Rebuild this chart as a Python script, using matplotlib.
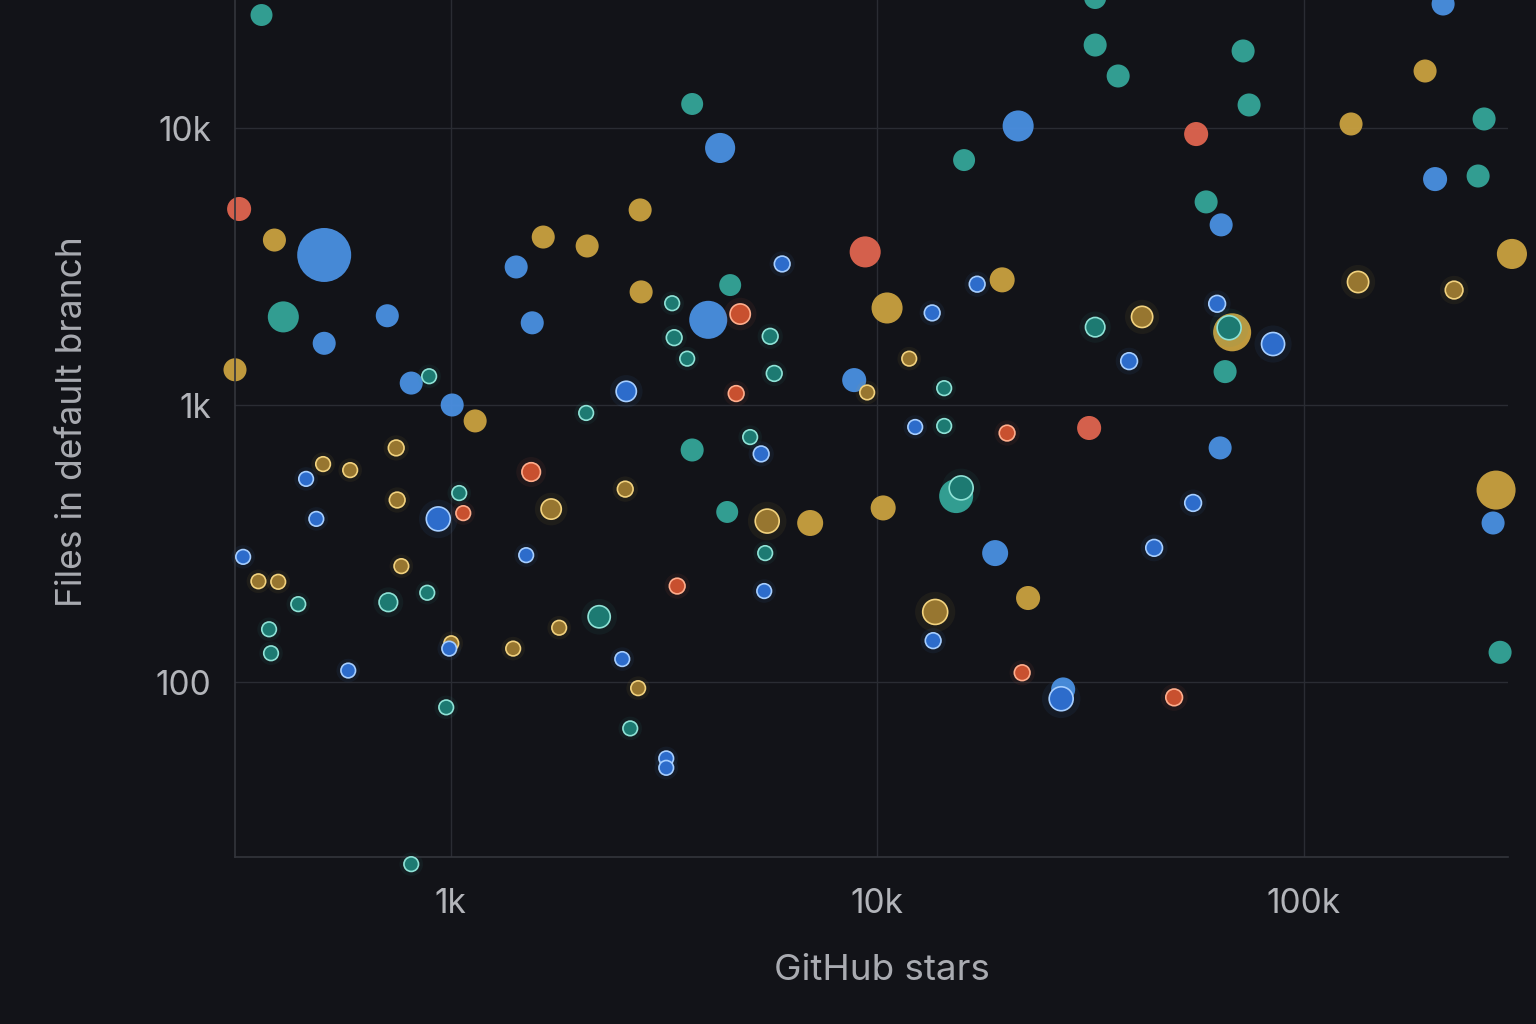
import numpy as np
import matplotlib
matplotlib.use('Agg')
import matplotlib.pyplot as plt
from matplotlib.ticker import FixedLocator, FixedFormatter, NullLocator

plt.rcParams['font.family'] = ['Inter', 'DejaVu Sans']

# ---- values (stars, files, contributors, recently active) ----
blue_stars = [505, 710, 505, 808, 1008, 2580, 1424, 1553, 458, 484, 935, 1503, 326, 575,
              992, 2525, 4283, 5988, 4017, 13460, 17160, 21410, 8834, 12280, 5346, 5434,
              3202, 3202, 18910, 13530, 27010, 27300, 212400, 203400, 64070, 62700, 84800,
              38980, 63720, 55070, 44620, 278200]
blue_files = [3480, 2100, 1670, 1200, 1000, 1120, 3150, 1980, 541, 388, 388, 287, 283, 110,
              132, 121, 8470, 3230, 2030, 2150, 2730, 10170, 1230, 833, 666, 213,
              53, 49, 292, 141, 87, 94, 28030, 6540, 4470, 2320, 1660,
              1440, 700, 443, 305, 375]
blue_contrib = [1510, 275, 275, 275, 275, 250, 275, 275, 130, 130, 350, 130, 130, 130,
                130, 130, 470, 150, 750, 150, 150, 500, 300, 130, 150, 130,
                130, 130, 350, 150, 350, 300, 275, 300, 275, 170, 325,
                170, 275, 170, 170, 275]
blue_active = [0, 0, 0, 0, 0, 1, 0, 0, 1, 1, 1, 1, 1, 1,
               1, 1, 0, 1, 0, 1, 1, 0, 0, 1, 1, 1,
               1, 1, 0, 1, 1, 0, 0, 0, 0, 1, 1,
               1, 0, 1, 1, 0]

teal_stars = [360, 405, 890, 2078, 1047, 439, 714, 881, 375, 379, 2229, 976, 2636, 808,
              3683, 3306, 4522, 3342, 5613, 3585, 5736, 15990, 14360, 14360, 5037, 3683,
              4450, 5463, 15320, 15740, 32450, 32450, 36740, 72140, 74500, 265000, 256600,
              59080, 32450, 66890, 65450, 288900]
teal_files = [25580, 2080, 1270, 936, 481, 191, 194, 210, 155, 127, 172, 81, 68, 22,
              12210, 2330, 2710, 1750, 1770, 1470, 1300, 7660, 1150, 840, 766, 688,
              411, 292, 469, 502, 29460, 19930, 15410, 18970, 12110, 10780, 6710,
              5410, 1910, 1900, 1320, 128]
teal_contrib = [250, 500, 130, 130, 130, 130, 210, 130, 130, 130, 300, 130, 130, 130,
                250, 130, 250, 150, 150, 130, 150, 250, 130, 130, 130, 275,
                250, 130, 600, 350, 250, 275, 275, 275, 275, 275, 275,
                275, 230, 350, 275, 275]
teal_active = [0, 0, 1, 1, 1, 1, 1, 1, 1, 1, 1, 1, 1, 1,
               0, 1, 0, 1, 1, 1, 1, 0, 1, 1, 1, 0,
               0, 1, 0, 1, 0, 0, 0, 0, 0, 0, 0,
               0, 1, 1, 0, 0]

gold_stars = [386, 312, 1141, 1648, 2089, 2781, 2796, 745, 502, 581, 749, 1720, 2566,
              354, 394, 766, 1003, 1401, 1796, 2751, 10550, 19640, 11890, 9475, 5523,
              6965, 10330, 22590, 13680, 192700, 129200, 308000, 134200, 225400, 41810,
              67990, 282700]
gold_files = [3940, 1340, 876, 4040, 3750, 5060, 2560, 700, 612, 582, 454, 421, 497,
              231, 230, 262, 138, 132, 157, 95, 2240, 2830, 1470, 1110, 381,
              375, 425, 201, 179, 16060, 10340, 3510, 2780, 2600, 2080,
              1830, 493]
gold_contrib = [275, 275, 275, 275, 275, 275, 275, 150, 130, 130, 150, 250, 150,
                130, 130, 130, 130, 130, 130, 130, 500, 325, 130, 130, 350,
                350, 325, 300, 380, 275, 275, 470, 275, 190, 275,
                750, 790]
gold_active = [0, 0, 0, 0, 0, 0, 0, 1, 1, 1, 1, 1, 1,
               1, 1, 1, 1, 1, 1, 1, 0, 0, 1, 1, 1,
               0, 0, 0, 1, 0, 0, 0, 1, 1, 1,
               0, 0]

red_stars = [319, 1070, 1544, 9374, 4773, 4671, 20170, 3397, 21880, 55980, 31410, 49710]
red_files = [5100, 407, 573, 3570, 2130, 1100, 792, 222, 108, 9510, 826, 88]
red_contrib = [300, 130, 210, 500, 250, 150, 150, 150, 150, 300, 300, 170]
red_active = [0, 1, 1, 0, 1, 1, 1, 1, 1, 0, 0, 1]

x_ticks = [1e3, 1e4, 1e5]
x_labels = ['1k', '10k', '100k']
y_ticks = [1e2, 1e3, 1e4]
y_labels = ['100', '1k', '10k']

groups = {
    'gold': (gold_stars, gold_files, gold_contrib, gold_active),
    'teal': (teal_stars, teal_files, teal_contrib, teal_active),
    'blue': (blue_stars, blue_files, blue_contrib, blue_active),
    'red': (red_stars, red_files, red_contrib, red_active),
}
# flat fill, rim fill, rim edge
palette = {
    'blue': ('#4a90e2', '#2d6ccb', '#a6ceff'),
    'teal': ('#34a598', '#1d7a72', '#8fe2d6'),
    'gold': ('#c9a140', '#977630', '#f2d27e'),
    'red': ('#e0654f', '#c8502f', '#ffad8c'),
}

bg = '#121318'
fig = plt.figure(figsize=(15.36, 10.24), dpi=100, facecolor=bg)
ax = fig.add_axes([0.1530, 0.1631, 0.8288, 0.8369])
ax.set_facecolor(bg)
ax.set_xscale('log')
ax.set_yscale('log')
ax.set_xlim(312, 301600)
ax.set_ylim(23.35, 28980)

# flat markers first, ringed (recently active) ones on top
for active in (0, 1):
    for name, (st, fl, co, ac) in groups.items():
        st, fl, co, ac = map(np.asarray, (st, fl, co, ac))
        m = ac == active
        flat, rim_fill, rim_edge = palette[name]
        if active:
            # faint coloured glow
            ax.scatter(st[m], fl[m], s=co[m] * 2.2, color=flat, alpha=0.07,
                       linewidths=0, clip_on=False, zorder=2)
            ax.scatter(st[m], fl[m], s=co[m] * 0.85, color=rim_fill, edgecolors=rim_edge,
                       linewidths=1.2, clip_on=False, zorder=3)
        else:
            ax.scatter(st[m], fl[m], s=co[m], color=flat, linewidths=0,
                       alpha=0.95, clip_on=False, zorder=2)

ax.xaxis.set_major_locator(FixedLocator(x_ticks))
ax.xaxis.set_major_formatter(FixedFormatter(x_labels))
ax.yaxis.set_major_locator(FixedLocator(y_ticks))
ax.yaxis.set_major_formatter(FixedFormatter(y_labels))
ax.xaxis.set_minor_locator(NullLocator())
ax.yaxis.set_minor_locator(NullLocator())

ax.grid(True, color='#2a2c33', linewidth=1.0, zorder=0)
ax.set_axisbelow(True)
for side in ('top', 'right'):
    ax.spines[side].set_visible(False)
for side in ('left', 'bottom'):
    ax.spines[side].set_color('#33353c')
    ax.spines[side].set_linewidth(1.2)

ax.tick_params(axis='both', length=0, colors='#b3b5ba', labelsize=24)
ax.tick_params(axis='x', pad=22)
ax.tick_params(axis='y', pad=17)

ax.set_xlabel('GitHub stars', fontsize=26.5, color='#a9abb1')
ax.set_ylabel('Files in default branch', fontsize=25.5, color='#a9abb1')
ax.xaxis.set_label_coords(0.508, -0.113)
ax.yaxis.set_label_coords(-0.115, 0.508)

fig.savefig('out.png', dpi=100, facecolor=bg)
